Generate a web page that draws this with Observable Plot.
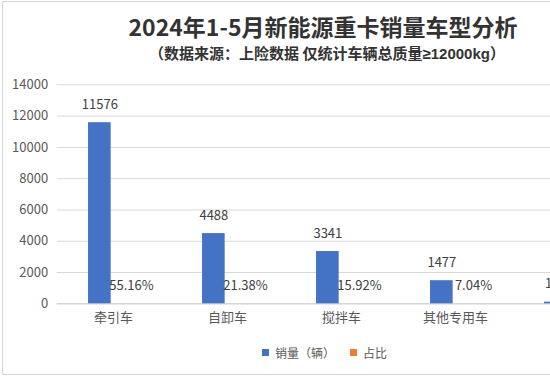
<!DOCTYPE html>
<html>
<head>
<meta charset="utf-8">
<script src="https://cdn.jsdelivr.net/npm/d3@7"></script>
<script src="https://cdn.jsdelivr.net/npm/@observablehq/plot@0.6"></script>
<style>
  html, body { margin: 0; padding: 0; overflow: hidden; background: #fff; width: 550px; height: 378px; }
  #wrap { position: relative; width: 550px; height: 378px; overflow: hidden; font-family: "Noto Sans CJK SC", sans-serif; }
  #frame { position: absolute; left: 2px; top: 1px; width: 700px; height: 374px; border: 1px solid #d6d6d6; box-sizing: border-box; }
  #title { position: absolute; left: 0; top: 14px; width: 646px; text-align: center; font-size: 23px; line-height: 24px; font-weight: 700; color: #333; white-space: nowrap; }
  #subtitle { position: absolute; left: 0; top: 45px; width: 654px; text-align: center; font-size: 15px; line-height: 16px; font-weight: 700; color: #333; white-space: nowrap; }
  #subtitle .lat { font-family: "Liberation Sans", sans-serif; }
  #chart { position: absolute; left: 0; top: 0; width: 640px; }
  #chart svg { max-width: none !important; }
  #legend { position: absolute; left: 262px; top: 344px; display: flex; align-items: center; font-size: 12px; color: #595959; white-space: nowrap; }
  #legend .sw { display: inline-block; width: 7px; height: 7px; margin-right: 6px; }
  #legend .item { display: flex; align-items: center; margin-right: 15px; }
</style>
</head>
<body>
<div id="wrap">
  <div id="frame"></div>
  <div id="chart"></div>
  <div id="title"></div>
  <div id="subtitle"></div>
  <div id="legend"></div>
</div>
<script>
const titleText = "2024年1-5月新能源重卡销量车型分析";
const subtitleMain = "（数据来源：上险数据 仅统计车辆总质量";
const subtitleTail = "≥12000kg";
const subtitleEnd = "）";
const categories = ["牵引车", "自卸车", "搅拌车", "其他专用车", "载货车"];
const sales = [11576, 4488, 3341, 1477, 104];
const shares = [0.5516, 0.2138, 0.1592, 0.0704, 0.0050];
const seriesNames = ["销量（辆）", "占比"];
const seriesColors = ["#4472C4", "#ED7D31"];
const yTicks = [0, 2000, 4000, 6000, 8000, 10000, 12000, 14000];

const data = categories.map((c, i) => ({category: c, sales: sales[i], share: shares[i]}));

document.getElementById("title").textContent = titleText;
const sub = document.getElementById("subtitle");
sub.appendChild(document.createTextNode(subtitleMain));
const lat = document.createElement("span");
lat.className = "lat";
lat.textContent = subtitleTail;
sub.appendChild(lat);
sub.appendChild(document.createTextNode(subtitleEnd));

const step = 114.67;
const x0 = 52.67;
const half = step / 2;
const barW = 23.3;

const chart = Plot.plot({
  width: 640,
  height: 378,
  marginTop: 84.3,
  marginBottom: 74.7,
  marginLeft: 56.7,
  marginRight: 0,
  style: {fontFamily: "'Noto Sans CJK SC', sans-serif", background: "transparent", overflow: "visible", maxWidth: "none"},
  x: {type: "band", domain: categories, range: [x0, x0 + step * categories.length], padding: 0},
  y: {domain: [0, 14000]},
  marks: [
    Plot.gridY({ticks: yTicks, stroke: "#d9d9d9", strokeOpacity: 1}),
    Plot.ruleY([0], {stroke: "#d0d0d0"}),
    Plot.barY(data, {x: "category", y: "sales", fill: seriesColors[0], insetLeft: half - barW, insetRight: half}),
    Plot.barY(data, {x: "category", y: "share", fill: seriesColors[1], insetLeft: half, insetRight: half - barW}),
    Plot.text(data, {x: "category", y: "sales", text: d => String(d.sales), dx: -barW / 2, dy: -18, fontSize: 13, fill: "#404040"}),
    Plot.text(data, {x: "category", y: "share", text: d => d3.format(".2%")(d.share), dx: 20, dy: -18, fontSize: 13, fill: "#404040"}),
    Plot.axisY({ticks: yTicks, tickSize: 0, tickPadding: 9, label: null, fontSize: 13, color: "#595959", tickFormat: d => String(d)}),
    Plot.axisX({tickSize: 0, tickPadding: 9, label: null, fontSize: 13, color: "#595959", dx: 2})
  ]
});
document.getElementById("chart").appendChild(chart);

const legend = document.getElementById("legend");
seriesNames.forEach((name, i) => {
  const item = document.createElement("span");
  item.className = "item";
  const sw = document.createElement("span");
  sw.className = "sw";
  sw.style.background = seriesColors[i];
  item.appendChild(sw);
  item.appendChild(document.createTextNode(name));
  legend.appendChild(item);
});
</script>
</body>
</html>
